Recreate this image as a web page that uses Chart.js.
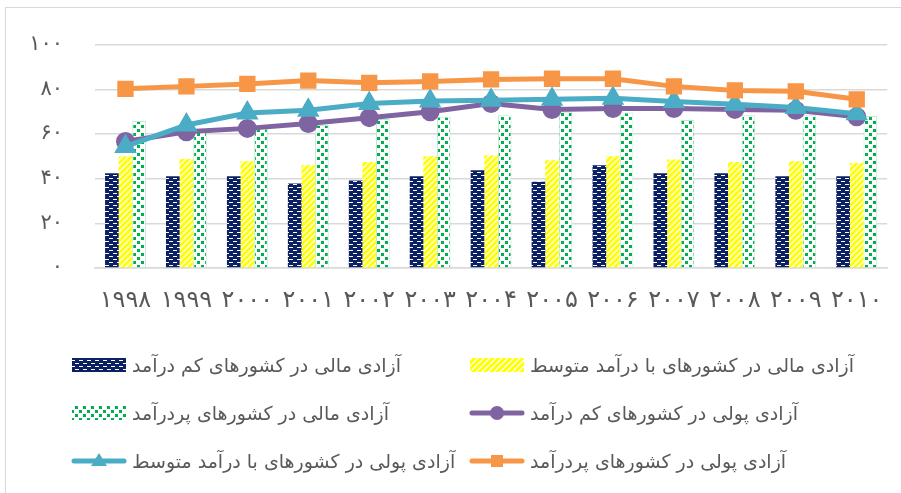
<!DOCTYPE html>
<html>
<head>
<meta charset="utf-8">
<script src="https://cdn.jsdelivr.net/npm/chart.js@4"></script>
<style>
    body { margin: 0; background: #fff; font-family: "DejaVu Sans", sans-serif; }
    #frame { position: absolute; left: 5px; top: 7px; width: 920px; height: 520px; border: 1px solid #d9d9d9; }
    #wrap { position: absolute; left: 0; top: 0; width: 901px; height: 322px; }
    #legend { position: absolute; left: 0; top: 0; width: 901px; height: 493px; pointer-events: none; }
    .item { position: absolute; display: flex; align-items: center; height: 30px; }
    .item canvas { margin-right: 4px; }
    .item span { font-size: 19px; color: #595959; white-space: nowrap; }
</style>
</head>
<body>
<div id="frame"></div>
<div id="wrap"><canvas id="chart"></canvas></div>
<div id="legend"></div>
<script>
const years = ['۱۹۹۸', '۱۹۹۹', '۲۰۰۰', '۲۰۰۱', '۲۰۰۲', '۲۰۰۳', '۲۰۰۴', '۲۰۰۵', '۲۰۰۶', '۲۰۰۷', '۲۰۰۸', '۲۰۰۹', '۲۰۱۰'];

const seriesNames = [
    'آزادی مالی در کشورهای کم درآمد',
    'آزادی مالی در کشورهای با درآمد متوسط',
    'آزادی مالی در کشورهای پردرآمد',
    'آزادی پولی در کشورهای کم درآمد',
    'آزادی پولی در کشورهای با درآمد متوسط',
    'آزادی پولی در کشورهای پردرآمد'
];

const finLow = [42.4, 41.1, 41.1, 37.8, 39.2, 41.1, 43.7, 38.6, 46.0, 42.4, 42.4, 41.1, 41.1];
const finMid = [50.0, 48.8, 47.8, 46.0, 47.5, 50.0, 50.4, 48.2, 50.0, 48.6, 47.5, 47.8, 47.0];
const finHigh = [65.8, 61.5, 62.5, 64.0, 66.7, 67.7, 68.4, 69.9, 69.6, 66.2, 68.4, 68.4, 68.0];
const monLow = [56.6, 61.0, 62.5, 64.7, 67.3, 69.9, 73.6, 70.9, 71.4, 71.4, 71.0, 70.6, 67.7];
const monMid = [54.4, 64.0, 69.4, 70.6, 73.6, 74.8, 75.1, 75.5, 76.0, 74.5, 73.3, 71.8, 69.0];
const monHigh = [80.2, 81.3, 82.4, 83.9, 82.9, 83.5, 84.4, 84.7, 84.7, 81.3, 79.5, 79.1, 75.5];

const yTicks = [0, 20, 40, 60, 80, 100];

function toFa(n) {
    return String(n).replace(/\d/g, d => '۰۱۲۳۴۵۶۷۸۹'[d]);
}

function makePattern(kind) {
    const c = document.createElement('canvas');
    const g = c.getContext('2d');
    if (kind === 'navy') {
        c.width = 8; c.height = 6;
        g.fillStyle = '#0c2064';
        g.fillRect(0, 0, 8, 6);
        g.fillStyle = '#ffffff';
        g.fillRect(1, 1, 4, 1);
        g.fillRect(5, 4, 3, 1);
        g.fillRect(0, 4, 1, 1);
    } else if (kind === 'yellow') {
        c.width = 6; c.height = 6;
        g.fillStyle = '#ffffff';
        g.fillRect(0, 0, 6, 6);
        g.strokeStyle = '#ffff00';
        g.lineWidth = 3;
        for (let k = -6; k <= 12; k += 6) {
            g.beginPath();
            g.moveTo(k - 1, 7);
            g.lineTo(k + 7, -1);
            g.stroke();
        }
    } else {
        c.width = 8; c.height = 8;
        g.fillStyle = '#ffffff';
        g.fillRect(0, 0, 8, 8);
        g.fillStyle = '#00b050';
        g.fillRect(1, 1, 3, 3);
        g.fillRect(5, 5, 3, 3);
    }
    return g.createPattern(c, 'repeat');
}

const navyFill = makePattern('navy');
const yellowFill = makePattern('yellow');
const greenFill = makePattern('green');

const ctx = document.getElementById('chart').getContext('2d');
new Chart(ctx, {
    data: {
        labels: years,
        datasets: [
            { type: 'bar', label: seriesNames[0], data: finLow, backgroundColor: navyFill, order: 10 },
            { type: 'bar', label: seriesNames[1], data: finMid, backgroundColor: yellowFill, order: 10 },
            { type: 'bar', label: seriesNames[2], data: finHigh, backgroundColor: greenFill,
              borderColor: '#bfe8cf', borderWidth: 1, order: 10 },
            { type: 'line', label: seriesNames[3], data: monLow, borderColor: '#8064a2', backgroundColor: '#8064a2',
              borderWidth: 5, pointStyle: 'circle', pointRadius: 7, tension: 0, order: 3 },
            { type: 'line', label: seriesNames[4], data: monMid, borderColor: '#4bacc6', backgroundColor: '#4bacc6',
              borderWidth: 5, pointStyle: 'triangle', pointRadius: 8, tension: 0, order: 2 },
            { type: 'line', label: seriesNames[5], data: monHigh, borderColor: '#f79646', backgroundColor: '#f79646',
              borderWidth: 5, pointStyle: 'rect', pointRadius: 8, tension: 0, order: 1 }
        ]
    },
    options: {
        responsive: true,
        maintainAspectRatio: false,
        animation: false,
        layout: { padding: { top: 32, right: 13, left: 0, bottom: 0 } },
        datasets: {
            bar: { categoryPercentage: 0.67, barPercentage: 1.0 }
        },
        plugins: {
            legend: { display: false },
            tooltip: { enabled: false }
        },
        scales: {
            x: {
                grid: { display: false, drawTicks: false },
                border: { color: '#d9d9d9', width: 1.5 },
                ticks: {
                    color: '#595959',
                    font: { family: 'DejaVu Sans', size: 24 },
                    autoSkip: false, maxRotation: 0, minRotation: 0, padding: 18
                },
                afterFit: scale => { scale.height = 54; }
            },
            y: {
                min: 0, max: 100,
                afterBuildTicks: scale => { scale.ticks = yTicks.map(v => ({ value: v })); },
                grid: { color: '#d9d9d9', lineWidth: 1.5, drawTicks: false },
                border: { display: false },
                ticks: {
                    color: '#595959',
                    font: { family: 'DejaVu Sans', size: 21 },
                    padding: 32,
                    callback: v => toFa(v)
                },
                afterFit: scale => { scale.width = 95; }
            }
        }
    }
});

// legend, two columns in three rows
const legendSpec = [
    { kind: 'navy', col: 0, row: 0 },
    { kind: 'yellow', col: 1, row: 0 },
    { kind: 'green', col: 0, row: 1 },
    { kind: 'line', color: '#8064a2', marker: 'circle', col: 1, row: 1 },
    { kind: 'line', color: '#4bacc6', marker: 'triangle', col: 0, row: 2 },
    { kind: 'line', color: '#f79646', marker: 'rect', col: 1, row: 2 }
];
const colX = [70, 468];
const rowY = [350, 398, 446];
const legend = document.getElementById('legend');
legendSpec.forEach((s, i) => {
    const div = document.createElement('div');
    div.className = 'item';
    div.style.left = colX[s.col] + 'px';
    div.style.top = rowY[s.row] + 'px';
    const sw = document.createElement('canvas');
    sw.width = 58; sw.height = 24;
    const g = sw.getContext('2d');
    if (s.kind === 'line') {
        g.strokeStyle = s.color;
        g.lineWidth = 5;
        g.lineCap = 'round';
        g.beginPath(); g.moveTo(4, 12); g.lineTo(54, 12); g.stroke();
        g.fillStyle = s.color;
        if (s.marker === 'circle') {
            g.beginPath(); g.arc(29, 12, 7, 0, Math.PI * 2); g.fill();
        } else if (s.marker === 'rect') {
            g.fillRect(23, 6, 12, 12);
        } else {
            g.beginPath(); g.moveTo(29, 4); g.lineTo(37, 17); g.lineTo(21, 17); g.closePath(); g.fill();
        }
    } else {
        g.fillStyle = s.kind === 'navy' ? navyFill : (s.kind === 'yellow' ? yellowFill : greenFill);
        g.fillRect(2, 5, 54, 14);
    }
    div.appendChild(sw);
    const t = document.createElement('span');
    t.textContent = seriesNames[i];
    div.appendChild(t);
    legend.appendChild(div);
});
</script>
</body>
</html>
